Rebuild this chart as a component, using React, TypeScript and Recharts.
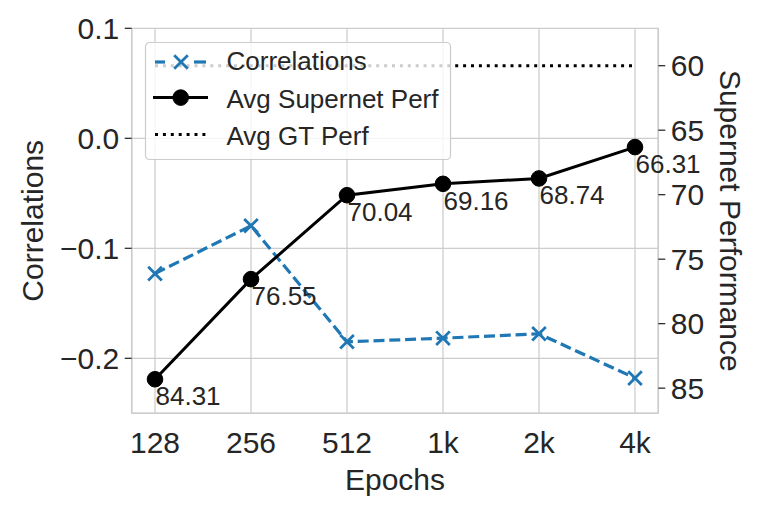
import React from 'react';
import { LineChart, Line, XAxis, YAxis, CartesianGrid, Legend, LabelList, Label } from 'recharts';

const epochs = ['128', '256', '512', '1k', '2k', '4k'];
const correlations = [-0.123, -0.0795, -0.185, -0.1817, -0.1777, -0.218];
const supernetPerf = [84.31, 76.55, 70.04, 69.16, 68.74, 66.31];
const gtPerf = [60, 60, 60, 60, 60, 60];
const corrTicks = [-0.2, -0.1, 0, 0.1];
const perfTicks = [60, 65, 70, 75, 80, 85];
const legendLabels = ['Correlations', 'Avg Supernet Perf', 'Avg GT Perf'];

const data = epochs.map((e, i) => ({ epoch: e, corr: correlations[i], perf: supernetPerf[i], gt: gtPerf[i] }));

const FONT = '"Liberation Sans", Arial, Helvetica, sans-serif';
const TEXT = '#262626';
const BLUE = '#1f77b4';
const GRID = '#cccccc';

const fmtCorr = (v: number) => {
  if (Math.abs(v) < 1e-9) return '0.0';
  return v < 0 ? '\u2212' + Math.abs(v).toFixed(1) : v.toFixed(1);
};

const XMark = (props: any) => {
  const { cx, cy } = props;
  if (cx == null || cy == null) return null;
  const h = 6.8;
  return (
    <path
      d={`M${cx - h},${cy - h}L${cx + h},${cy + h}M${cx + h},${cy - h}L${cx - h},${cy + h}`}
      stroke={BLUE}
      strokeWidth={2.8}
      fill="none"
    />
  );
};

const Dot = (props: any) => {
  const { cx, cy } = props;
  if (cx == null || cy == null) return null;
  return <circle cx={cx} cy={cy} r={7.8} fill="#000" stroke="#000" strokeWidth={1} />;
};

const PerfLabel = (props: any) => {
  const { x, y, value } = props;
  if (x == null || y == null) return null;
  return (
    <text x={Number(x) + 0.5} y={Number(y) + 26} fontSize={26} fill={TEXT} textAnchor="start" fontFamily={FONT}>
      {Number(value).toFixed(2)}
    </text>
  );
};

const LegendBox = () => {
  const W = 306;
  const H = 118;
  const tx = 81.5;
  return (
    <svg width={W} height={H} style={{ display: 'block', overflow: 'visible' }}>
      <rect x={0.5} y={0.5} width={W - 1} height={H - 1} rx={4} ry={4} fill="#ffffff" fillOpacity={0.8} stroke={GRID} strokeWidth={1.2} />
      <line x1={10} y1={20} x2={20} y2={20} stroke={BLUE} strokeWidth={3.2} />
      <line x1={49} y1={20} x2={61} y2={20} stroke={BLUE} strokeWidth={3.2} />
      <path d={`M${36 - 6.8},${20 - 6.8}L${36 + 6.8},${20 + 6.8}M${36 + 6.8},${20 - 6.8}L${36 - 6.8},${20 + 6.8}`} stroke={BLUE} strokeWidth={2.8} />
      <text x={tx} y={28.3} fontSize={26} fill={TEXT} fontFamily={FONT}>{legendLabels[0]}</text>
      <line x1={8} y1={55.6} x2={63} y2={55.6} stroke="#000" strokeWidth={3} />
      <circle cx={35.7} cy={55.6} r={7.8} fill="#000" stroke="#000" strokeWidth={1} />
      <text x={tx} y={65.6} fontSize={26} fill={TEXT} fontFamily={FONT}>{legendLabels[1]}</text>
      <line x1={10} y1={92.6} x2={61} y2={92.6} stroke="#000" strokeWidth={3} strokeDasharray="3 4.9" />
      <text x={tx} y={103.3} fontSize={26} fill={TEXT} fontFamily={FONT}>{legendLabels[2]}</text>
    </svg>
  );
};

const LeftTitle = (props: any) => {
  const vb = props.viewBox || { x: 0, y: 28.3, width: 131.7, height: 385 };
  const x = vb.x + 43;
  const y = vb.y + vb.height / 2;
  return (
    <text x={x} y={y} transform={`rotate(-90 ${x} ${y})`} textAnchor="middle" fontSize={30} fill={TEXT} fontFamily={FONT}>
      Correlations
    </text>
  );
};

const RightTitle = (props: any) => {
  const vb = props.viewBox || { x: 658.3, y: 28.3, width: 101.7, height: 385 };
  const x = vb.x + 62;
  const y = vb.y + vb.height / 2;
  return (
    <text x={x} y={y} transform={`rotate(90 ${x} ${y})`} textAnchor="middle" fontSize={30} fill={TEXT} fontFamily={FONT}>
      Supernet Performance
    </text>
  );
};

const BottomTitle = (props: any) => {
  const vb = props.viewBox || { x: 131.7, y: 413.3, width: 526.6, height: 99.7 };
  const x = vb.x + vb.width / 2;
  const y = vb.y + 76.7;
  return (
    <text x={x} y={y} textAnchor="middle" fontSize={30} fill={TEXT} fontFamily={FONT}>
      Epochs
    </text>
  );
};

export default function App() {
  const tickStyle = { fill: TEXT, fontSize: 30, fontFamily: FONT };
  return (
    <div style={{ position: 'absolute', left: 0, top: 0, width: 760, height: 513, fontFamily: FONT, background: '#fff' }}>
      <LineChart width={760} height={513} data={data} margin={{ top: 28.3, right: 0, bottom: 0, left: 0 }}>
        <CartesianGrid yAxisId="left" stroke={GRID} strokeWidth={1.25} />
        <XAxis
          dataKey="epoch"
          scale="point"
          padding={{ left: 23.3, right: 23.3 }}
          height={99.7}
          tickLine={false}
          tickSize={0}
          tickMargin={18.7}
          interval={0}
          axisLine={{ stroke: GRID, strokeWidth: 1.5 }}
          tick={tickStyle}
        >
          <Label content={BottomTitle} />
        </XAxis>
        <YAxis
          yAxisId="left"
          orientation="left"
          width={131.7}
          type="number"
          domain={[-0.25, 0.1]}
          ticks={corrTicks}
          allowDataOverflow
          tickFormatter={fmtCorr}
          tickSize={7}
          tickMargin={5.5}
          tickLine={{ stroke: TEXT, strokeWidth: 1.25 }}
          axisLine={{ stroke: GRID, strokeWidth: 1.5 }}
          tick={tickStyle}
        >
          <Label content={LeftTitle} />
        </YAxis>
        <YAxis
          yAxisId="right"
          orientation="right"
          width={101.7}
          type="number"
          domain={[57.1, 86.95]}
          reversed
          ticks={perfTicks}
          allowDataOverflow
          tickSize={7}
          tickMargin={5.5}
          tickLine={{ stroke: TEXT, strokeWidth: 1.25 }}
          axisLine={{ stroke: GRID, strokeWidth: 1.5 }}
          tick={tickStyle}
        >
          <Label content={RightTitle} />
        </YAxis>
        <Line
          yAxisId="left"
          dataKey="corr"
          name={legendLabels[0]}
          stroke={BLUE}
          strokeWidth={3.2}
          strokeDasharray="11 4.8"
          dot={XMark}
          activeDot={false}
          isAnimationActive={false}
        />
        <Line
          yAxisId="right"
          dataKey="perf"
          name={legendLabels[1]}
          stroke="#000"
          strokeWidth={3}
          dot={Dot}
          activeDot={false}
          isAnimationActive={false}
        >
          <LabelList dataKey="perf" content={PerfLabel} />
        </Line>
        <Line
          yAxisId="right"
          dataKey="gt"
          name={legendLabels[2]}
          stroke="#000"
          strokeWidth={3}
          strokeDasharray="3 4.9"
          dot={false}
          activeDot={false}
          isAnimationActive={false}
        />
        <Legend
          layout="vertical"
          align="center"
          verticalAlign="middle"
          content={LegendBox}
          wrapperStyle={{ position: 'absolute', left: 145, top: 41.7, width: 306, height: 118, margin: 0, padding: 0 }}
        />
      </LineChart>
    </div>
  );
}
